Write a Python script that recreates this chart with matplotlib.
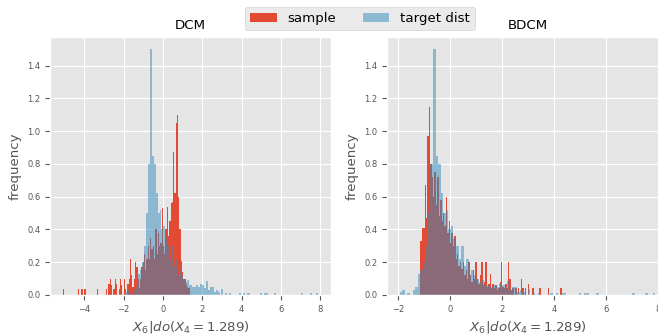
import numpy as np
import matplotlib.pyplot as plt

plt.style.use("ggplot")

# histogram densities (100 bins each)
target_range = (-1.95, 7.90)
target_dens = [
    0.02, 0.03, 0.0, 0.01, 0.0, 0.03, 0.05, 0.13, 0.15, 0.2,
    0.3, 0.5, 0.8, 1.5, 0.85, 0.8, 0.62, 0.5, 0.52, 0.4,
    0.42, 0.35, 0.3, 0.22, 0.3, 0.18, 0.22, 0.12, 0.15, 0.12,
    0.1, 0.08, 0.09, 0.06, 0.06, 0.05, 0.05, 0.06, 0.05, 0.07,
    0.06, 0.04, 0.085, 0.03, 0.05, 0.05, 0.02, 0.03, 0.02, 0.0,
    0.035, 0.0, 0.01, 0.0, 0.01, 0.0, 0.0, 0.0, 0.0, 0.01,
    0.0, 0.01, 0.0, 0.01, 0.01, 0.0, 0.0, 0.0, 0.0, 0.0,
    0.01, 0.0, 0.01, 0.01, 0.0, 0.0, 0.0, 0.01, 0.0, 0.0,
    0.0, 0.0, 0.0, 0.0, 0.0, 0.0, 0.0, 0.0, 0.0, 0.0,
    0.0, 0.01, 0.0, 0.0, 0.0, 0.0, 0.01, 0.0, 0.0, 0.01,
]

dcm_range = (-5.10, 1.35)
dcm_dens = [
    0.035, 0.0, 0.0, 0.0, 0.0, 0.0, 0.0, 0.0, 0.0, 0.0,
    0.0, 0.0, 0.035, 0.0, 0.035, 0.035, 0.0, 0.035, 0.0, 0.0,
    0.0, 0.0, 0.0, 0.0, 0.0, 0.0, 0.0, 0.035, 0.0, 0.0,
    0.0, 0.0, 0.0, 0.0, 0.035, 0.0, 0.07, 0.1, 0.06, 0.0,
    0.035, 0.1, 0.07, 0.0, 0.035, 0.1, 0.06, 0.0, 0.1, 0.035,
    0.0, 0.07, 0.1, 0.22, 0.12, 0.05, 0.1, 0.2, 0.17, 0.1,
    0.04, 0.1, 0.17, 0.2, 0.25, 0.15, 0.22, 0.3, 0.22, 0.35,
    0.28, 0.3, 0.22, 0.4, 0.25, 0.38, 0.3, 0.32, 0.53, 0.3,
    0.25, 0.4, 0.54, 0.36, 0.45, 0.56, 0.57, 0.87, 0.62, 1.05,
    1.1, 0.6, 0.4, 0.21, 0.14, 0.1, 0.1, 0.07, 0.05, 0.04,
]

bdcm_range = (-1.16, 4.30)
bdcm_dens = [
    0.33, 0.41, 0.41, 0.67, 0.47, 0.97, 1.15, 0.8, 0.72, 0.6,
    0.75, 0.55, 0.72, 0.48, 0.58, 0.45, 0.5, 0.42, 0.6, 0.38,
    0.45, 0.32, 0.38, 0.3, 0.36, 0.22, 0.25, 0.18, 0.2, 0.16,
    0.2, 0.12, 0.15, 0.1, 0.2, 0.12, 0.08, 0.15, 0.1, 0.2,
    0.1, 0.07, 0.12, 0.2, 0.06, 0.08, 0.2, 0.05, 0.07, 0.13,
    0.04, 0.07, 0.04, 0.06, 0.03, 0.04, 0.08, 0.2, 0.05, 0.04,
    0.07, 0.04, 0.2, 0.1, 0.03, 0.04, 0.0, 0.04, 0.0, 0.04,
    0.0, 0.1, 0.04, 0.0, 0.04, 0.0, 0.07, 0.0, 0.0, 0.04,
    0.0, 0.0, 0.0, 0.0, 0.04, 0.0, 0.0, 0.0, 0.0, 0.0,
    0.04, 0.0, 0.0, 0.0, 0.0, 0.0, 0.0, 0.0, 0.0, 0.04,
]

titles = ["DCM", "BDCM"]
samples = [(dcm_range, dcm_dens), (bdcm_range, bdcm_dens)]
xlabel = r"$X_6|do(X_4=1.289)$"


def edges_of(rng, n):
    return np.linspace(rng[0], rng[1], n + 1)


fig = plt.figure(figsize=(6.58, 3.35), dpi=100)
W, H = 658, 335
ax_l = fig.add_axes([50 / W, 40 / H, 281 / W, 258 / H])
ax_r = fig.add_axes([387 / W, 40 / H, 281 / W, 258 / H])

t_edges = edges_of(target_range, len(target_dens))
for ax, title, (rng, dens) in zip([ax_l, ax_r], titles, samples):
    s_edges = edges_of(rng, len(dens))
    ax.hist(s_edges[:-1], bins=s_edges, weights=dens, histtype="stepfilled",
            color="#E24A33", linewidth=0, label="sample")
    ax.hist(t_edges[:-1], bins=t_edges, weights=target_dens, histtype="stepfilled",
            color="#348ABD", alpha=0.5, linewidth=0, label="target dist")
    ax.set_title(title, fontsize=9.6)
    ax.set_xlabel(xlabel, fontsize=9.6)
    ax.set_ylabel("frequency", fontsize=9.6)
    ax.tick_params(labelsize=6)

handles, labels = ax_l.get_legend_handles_labels()
fig.legend(handles, labels, loc="upper center", bbox_to_anchor=(360 / W, 1.0),
           ncol=2, fontsize=9.6)

fig.savefig("out.png", dpi=100)
